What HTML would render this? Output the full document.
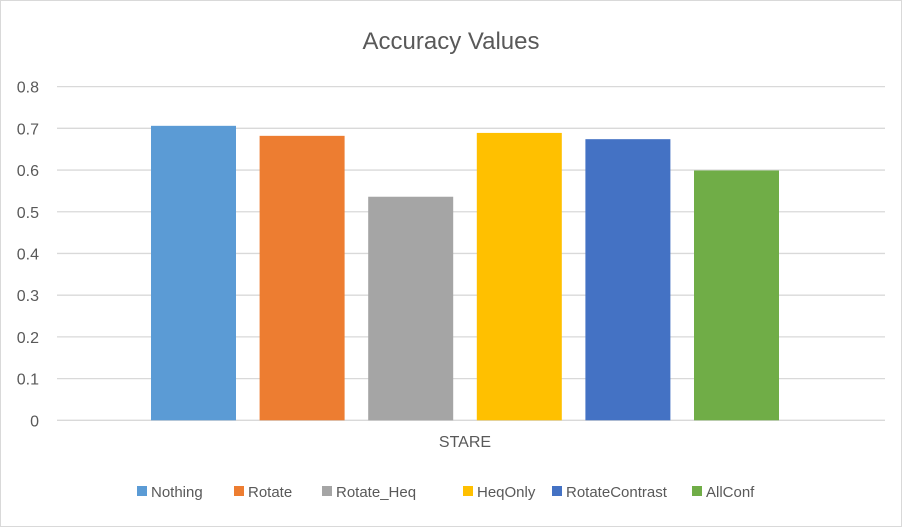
<!DOCTYPE html>
<html><head><meta charset="utf-8"><style>
body{margin:0;background:#fff;font-family:"Liberation Sans",sans-serif;}
#c{position:relative;width:902px;height:527px;}
</style></head><body>
<div id="c">
<svg width="902" height="527" id="svg">
<rect x="0.5" y="0.5" width="901" height="526" fill="#fff" stroke="#d9d9d9"/>
<text x="451" y="49" text-anchor="middle" font-size="24" fill="#595959">Accuracy Values</text>
<text x="465" y="447" text-anchor="middle" font-size="16" fill="#595959">STARE</text>
<g id="grid"></g><g id="bars"></g><g id="legend"></g>
</svg>
</div>
<script>
const categories=["Nothing","Rotate","Rotate_Heq","HeqOnly","RotateContrast","AllConf"];
const values=[0.706,0.682,0.536,0.689,0.674,0.599];
const colors=["#5b9bd5","#ed7d31","#a5a5a5","#ffc000","#4472c4","#70ad47"];
const ticks=[0,0.1,0.2,0.3,0.4,0.5,0.6,0.7,0.8];
const NS="http://www.w3.org/2000/svg";
function y(v){return 420.3-v*417.1;}
function bx(i){return 151+i*108.6;}
const bw=85;
function mk(t,a){const e=document.createElementNS(NS,t);for(const k in a)e.setAttribute(k,a[k]);return e;}
const grid=document.getElementById('grid');
ticks.forEach(t=>{
 const l=mk('line',{x1:57,x2:885,y1:y(t),y2:y(t),stroke:'#d9d9d9','stroke-width':1.3});
 
 
 grid.appendChild(l);
 const tx=mk('text',{x:39,y:y(t)+6,'text-anchor':'end','font-size':16,fill:'#595959'});
 tx.textContent=String(t);
 
 
 grid.appendChild(tx);
});
const bars=document.getElementById('bars');
values.forEach((v,i)=>{
 const r=mk('rect',{x:bx(i),y:y(v),width:bw,height:y(0)-y(v),fill:colors[i]});
 
 
 bars.appendChild(r);
});
const lg=document.getElementById('legend');
const lx=[137,234,322,463,552,692];
categories.forEach((c,i)=>{
 const g=mk('g',{});
 
 
 g.appendChild(mk('rect',{x:lx[i],y:486,width:10,height:10,fill:colors[i]}));
 const t=mk('text',{x:lx[i]+14,y:497,'font-size':15,fill:'#595959'});
 t.textContent=c;g.appendChild(t);lg.appendChild(g);
});
</script>
</body></html>
